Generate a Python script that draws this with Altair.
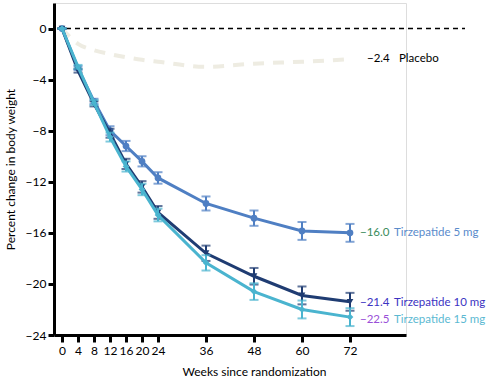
import altair as alt
import pandas as pd

weeks = [0, 4, 8, 12, 16, 20, 24, 36, 48, 60, 72]
placebo = [0, -1.2, -1.7, -2.0, -2.25, -2.45, -2.6, -3.0, -2.75, -2.6, -2.4]
tz5 = [0, -3.1, -5.7, -8.0, -9.2, -10.4, -11.7, -13.7, -14.85, -15.85, -16.0]
tz10 = [0, -3.3, -5.9, -8.2, -10.6, -12.4, -14.4, -17.6, -19.4, -20.9, -21.4]
tz15 = [0, -3.0, -5.8, -8.5, -10.8, -12.6, -14.6, -18.35, -20.6, -22.0, -22.6]
err5 = [0, 0.15, 0.2, 0.35, 0.4, 0.4, 0.45, 0.55, 0.6, 0.7, 0.7]
err10 = [0, 0.15, 0.2, 0.35, 0.4, 0.45, 0.5, 0.6, 0.65, 0.7, 0.7]
err15 = [0, 0.15, 0.2, 0.35, 0.4, 0.45, 0.5, 0.6, 0.65, 0.7, 0.7]

series_names = ["Tirzepatide 5 mg", "Tirzepatide 10 mg", "Tirzepatide 15 mg"]
series_vals = [tz5, tz10, tz15]
series_errs = [err5, err10, err15]
line_colors = ["#4f7fc3", "#1f3c72", "#4ab4cf"]
shapes = ["circle", "triangle-down", "diamond"]
value_labels = ["\u221216.0", "\u221221.4", "\u221222.5"]
value_colors = ["#3a8c5c", "#3b33c2", "#9a4fd8"]
name_colors = ["#5a8bcb", "#3b33c2", "#5bb9d2"]
label_dy = [0, 1, 3]
y_ticks = [0, -4, -8, -12, -16, -20, -24]

FONT = "Lato"
FS = 11.5
xscale = alt.Scale(domain=[-2, 86], nice=False, zero=False)
yscale = alt.Scale(domain=[-24, 2], nice=False, zero=False)

xaxis = alt.Axis(values=weeks, title="Weeks since randomization", labelFont=FONT,
                 labelFontSize=12, labelColor="black", titleFont=FONT, titleFontSize=12,
                 titleFontWeight="normal", titleColor="black", domainColor="black",
                 domainWidth=3, tickColor="black", tickWidth=3, tickSize=7, labelPadding=3,
                 grid=False, titlePadding=10, titleX=200, labelOverlap=False,
                 labelFlush=False)
yaxis = alt.Axis(values=y_ticks, title="Percent change in body weight",
                 labelFont=FONT, labelFontSize=12, labelColor="black", titleFont=FONT,
                 titleFontSize=12, titleFontWeight="normal", titleColor="black",
                 domainColor="black", domainWidth=3, tickColor="black", tickWidth=3,
                 tickSize=6, grid=False, titlePadding=8, labelOverlap=False)


def X(field="week"):
    return alt.X(f"{field}:Q", scale=xscale, axis=xaxis)


def Y(field="value"):
    return alt.Y(f"{field}:Q", scale=yscale, axis=yaxis)


layers = []

# zero reference line
zero = alt.Chart(pd.DataFrame({"y": [0]})).mark_rule(
    color="black", strokeWidth=1.5, strokeDash=[5, 4], clip=False
).encode(y=Y("y"), x=alt.value(3), x2=alt.value(411))
layers.append(zero)

pdf = pd.DataFrame({"week": weeks, "value": placebo})
plac = alt.Chart(pdf).mark_line(
    color="#eeece2", strokeWidth=4, strokeDash=[11, 9], interpolate="monotone"
).encode(x=X(), y=Y())
layers.append(plac)

for name, vals, errs, col, shp in zip(series_names, series_vals, series_errs, line_colors, shapes):
    df = pd.DataFrame({
        "week": weeks, "value": vals,
        "lo": [v - e for v, e in zip(vals, errs)],
        "hi": [v + e for v, e in zip(vals, errs)],
    })
    base = alt.Chart(df).encode(x=X())
    layers.append(base.mark_line(color=col, strokeWidth=3).encode(y=Y()))
    layers.append(base.mark_rule(color=col, strokeWidth=2).encode(y=Y("lo"), y2="hi:Q"))
    layers.append(base.mark_tick(color=col, orient="horizontal", size=9, thickness=2).encode(y=Y("lo")))
    layers.append(base.mark_tick(color=col, orient="horizontal", size=9, thickness=2).encode(y=Y("hi")))
    layers.append(base.mark_point(shape=shp, filled=True, size=45, color=col, opacity=1).encode(y=Y()))

# end labels
lab = pd.DataFrame({
    "week": [72] * 3,
    "value": [v[-1] for v in series_vals],
    "vlabel": value_labels,
    "name": series_names,
})
for i in range(3):
    row = lab.iloc[[i]]
    layers.append(alt.Chart(row).mark_text(
        align="left", baseline="middle", font=FONT, fontSize=FS, dx=10, dy=label_dy[i],
        color=value_colors[i]
    ).encode(x=X(), y=Y(), text="vlabel:N"))
    layers.append(alt.Chart(row).mark_text(
        align="left", baseline="middle", font=FONT, fontSize=FS, dx=44, dy=label_dy[i],
        color=name_colors[i]
    ).encode(x=X(), y=Y(), text="name:N"))

plab = pd.DataFrame({"week": [72], "value": [placebo[-1]], "vlabel": ["\u22122.4"], "name": ["Placebo"]})
layers.append(alt.Chart(plab).mark_text(
    align="left", baseline="middle", font=FONT, fontSize=FS, dx=17, color="black"
).encode(x=X(), y=Y(), text="vlabel:N"))
layers.append(alt.Chart(plab).mark_text(
    align="left", baseline="middle", font=FONT, fontSize=FS, dx=49, color="black"
).encode(x=X(), y=Y(), text="name:N"))

chart = alt.layer(*layers).properties(
    width=352, height=332,
    autosize=alt.AutoSizeParams(type="none"),
    padding={"left": 54, "top": 3, "right": 81, "bottom": 50},
).configure_view(stroke=None).configure(background="white")

chart.save("out.html", embed_options={"renderer": "svg", "actions": False})
